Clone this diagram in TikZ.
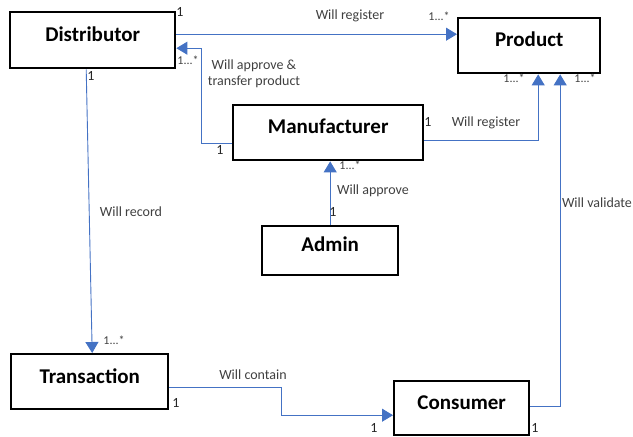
\documentclass[tikz,border=0pt]{standalone}
\usepackage{fontspec}
\setmainfont{Carlito}
\usetikzlibrary{arrows.meta}
\definecolor{linkblue}{HTML}{4472C4}
\definecolor{labelgray}{HTML}{404040}
\tikzset{
  entity/.style={draw=black, line width=2.4pt, rectangle, inner sep=0pt, anchor=north west},
  title/.style={font=\fontsize{21}{24}\selectfont\bfseries, text=black, yshift=6pt},
  link/.style={draw=linkblue, line width=0.9pt, -{Triangle[length=11pt,width=13pt]}},
  rel/.style={font=\fontsize{14}{16}\selectfont, text=labelgray, inner sep=0pt},
  one/.style={font=\fontsize{14}{15}\selectfont, text=black!85, inner sep=0pt},
  many/.style={font=\fontsize{12}{13}\selectfont, text=labelgray, inner sep=0pt}
}
\begin{document}
\begin{tikzpicture}[x=1pt, y=-1pt]
\useasboundingbox (0,0) rectangle (633,437);

% classes
\node[entity, minimum width=165pt, minimum height=56pt, label={[title]center:Distributor}] (dist) at (9,11) {};
\node[entity, minimum width=142pt, minimum height=55pt, label={[title]center:Product}] (prod) at (457,17) {};
\node[entity, minimum width=190pt, minimum height=55pt, label={[title]center:Manufacturer}] (manu) at (232,104) {};
\node[entity, minimum width=136pt, minimum height=49pt, label={[title]center:Admin}] (admin) at (261,225) {};
\node[entity, minimum width=157pt, minimum height=55pt, label={[title]center:Transaction}] (trans) at (10,353) {};
\node[entity, minimum width=135pt, minimum height=54pt, label={[title]center:Consumer}] (cons) at (393,380) {};

% associations
\draw[link] ([yshift=6pt]dist.east) -- ([yshift=6pt]dist.east -| prod.west);
\draw[link] ([yshift=-10.5pt]manu.west) -- ++(-31pt,0) |- ([yshift=-8pt]dist.east);
\draw[link] ([yshift=-7.5pt]manu.east) -| ([xshift=9pt]prod.south);
\draw[link] (admin.north) -- (admin.north |- manu.south);
\draw[link] ([yshift=2pt]cons.east) -| ([xshift=31pt]prod.south);
\draw[link] ([xshift=-6.5pt]dist.south) -- ([xshift=2.5pt]trans.north);
\draw[link] ([yshift=-5.5pt]trans.east) -- ++(112pt,0) |- ([yshift=-7pt]cons.west);

% association names
\node[rel] (l1) at (350,16) {Will register};
\node[rel, align=center] (l2) at (254,74) {Will approve \&\\transfer product};
\node[rel] (l3) at (486,123) {Will register};
\node[rel] (l4) at (373,191) {Will approve};
\node[rel] (l5) at (597,203) {Will validate};
\node[rel] (l6) at (131,212) {Will record};
\node[rel] (l7) at (253,375) {Will contain};

% multiplicities
\node[one] (m1) at (180,12) {1};
\node[many] (m2) at (439,16) {1...*};
\node[many] (m3) at (188,60) {1...*};
\node[one] (m4) at (220,150) {1};
\node[one] (m5) at (428,122) {1};
\node[many] (m6) at (514,78) {1...*};
\node[many] (m7) at (585,78) {1...*};
\node[many] (m8) at (350,165) {1...*};
\node[one] (m9) at (333,212) {1};
\node[one] (m10) at (91,76) {1};
\node[many] (m11) at (114,340) {1...*};
\node[one] (m12) at (176,403) {1};
\node[one] (m13) at (374,428) {1};
\node[one] (m14) at (535,428) {1};
\end{tikzpicture}
\end{document}
